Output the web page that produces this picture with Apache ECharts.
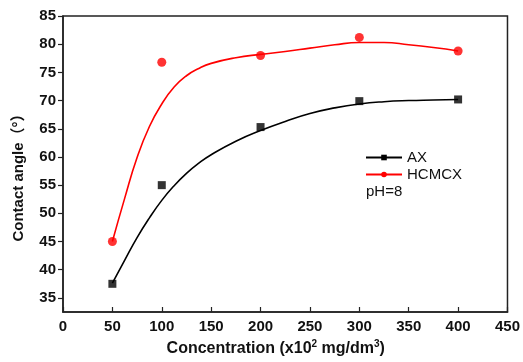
<!DOCTYPE html>
<html>
<head>
<meta charset="utf-8">
<script src="https://cdn.jsdelivr.net/npm/echarts@6/dist/echarts.min.js"></script>
<style>html,body{margin:0;padding:0;background:#fff}#c{width:523px;height:362px}</style>
</head>
<body>
<div id="c"></div>
<script>
// measured points
const concentrations = [50, 100, 200, 300, 400];
const axValues = [37.5, 55.0, 65.3, 69.9, 70.2];
const hcmcxValues = [45.0, 76.8, 78.0, 81.2, 78.8];
// fitted curves
const fitX = [50, 62.5, 75, 87.5, 100, 112.5, 125, 137.5, 150, 175, 200, 225, 250, 275, 300, 325, 350, 375, 400];
const axFitY = [37.6, 41.7, 45.7, 49.2, 52.3, 54.9, 57.1, 58.9, 60.4, 62.8, 64.7, 66.3, 67.7, 68.7, 69.4, 69.8, 70.0, 70.1, 70.2];
const hcFitY = [45.0, 52.7, 59.9, 65.4, 69.4, 72.4, 74.4, 75.7, 76.6, 77.6, 78.2, 78.7, 79.3, 79.9, 80.3, 80.3, 79.9, 79.4, 78.8];
// axis ticks
const xTicks = [0, 50, 100, 150, 200, 250, 300, 350, 400, 450];
const yTicks = [35, 40, 45, 50, 55, 60, 65, 70, 75, 80, 85];

const pair = (xs, ys) => xs.map((x, i) => [x, ys[i]]);
const axisCol = '#222';
const FONT = 'Liberation Sans, Arial';
const chart = echarts.init(document.getElementById('c'), null, {renderer: 'canvas'});
chart.setOption({
  animation: false,
  backgroundColor: '#fff',
  grid: {left: 63, right: 11, top: 16, bottom: 48, show: true, borderColor: axisCol, borderWidth: 1.5, backgroundColor: 'transparent'},
  xAxis: {
    type: 'value', min: xTicks[0], max: xTicks[xTicks.length - 1], interval: 50,
    name: '{b|Concentration (x10}{s|2}{b| mg/dm}{s|3}{b|)}',
    nameLocation: 'middle', nameGap: 27,
    nameTextStyle: {padding: [0, 19, 0, 0], rich: {
      b: {fontFamily: FONT, fontWeight: 'bold', fontSize: 16, color: '#111', verticalAlign: 'bottom', lineHeight: 18},
      s: {fontFamily: FONT, fontWeight: 'bold', fontSize: 10, color: '#111', verticalAlign: 'top', lineHeight: 18, padding: [0, 0, 7, 0]}
    }},
    axisLine: {show: true, lineStyle: {color: axisCol, width: 1.5}},
    axisTick: {show: true, inside: true, length: 5, lineStyle: {color: axisCol, width: 1.2}},
    axisLabel: {fontFamily: FONT, fontWeight: 'bold', fontSize: 15, color: '#111', margin: 7},
    splitLine: {show: false}
  },
  yAxis: {
    type: 'value', min: 32.5, max: yTicks[yTicks.length - 1],
    name: 'Contact angle（°）',
    nameLocation: 'middle', nameGap: 37, nameRotate: 90,
    nameTextStyle: {fontFamily: 'Liberation Sans, Arial, Noto Sans CJK SC', fontWeight: 'bold', fontSize: 15, color: '#111', padding: [0, 20, 0, 0]},
    axisLine: {show: true, lineStyle: {color: axisCol, width: 1.5}},
    axisTick: {show: true, inside: false, length: 5, lineStyle: {color: axisCol, width: 1.2}, customValues: yTicks},
    axisLabel: {fontFamily: FONT, fontWeight: 'bold', fontSize: 15, color: '#111', margin: 7, customValues: yTicks},
    splitLine: {show: false}
  },
  legend: {
    data: ['AX', 'HCMCX'], orient: 'vertical', left: 365, top: 150, padding: 0,
    itemWidth: 36, itemHeight: 7, itemGap: 2,
    textStyle: {fontFamily: FONT, fontSize: 15, color: '#111'}
  },
  graphic: [{type: 'text', left: 366, top: 184, style: {text: 'pH=8', font: '15px "Liberation Sans", Arial', fill: '#111'}}],
  series: [
    {name: 'AX', type: 'line', data: pair(fitX, axFitY), smooth: 0.5, symbol: 'rect', showSymbol: false,
     lineStyle: {color: '#000', width: 1.6}, itemStyle: {color: '#000'}, z: 2},
    {name: 'HCMCX', type: 'line', data: pair(fitX, hcFitY), smooth: 0.5, symbol: 'circle', showSymbol: false,
     lineStyle: {color: '#ff0000', width: 1.6}, itemStyle: {color: '#ff0000'}, z: 2},
    {name: 'AX data', type: 'scatter', data: pair(concentrations, axValues), symbol: 'rect', symbolSize: 8,
     itemStyle: {color: '#000'}, z: 3},
    {name: 'HCMCX data', type: 'scatter', data: pair(concentrations, hcmcxValues), symbol: 'circle', symbolSize: 9,
     itemStyle: {color: '#ff0000'}, z: 3}
  ]
});
</script>
</body>
</html>
